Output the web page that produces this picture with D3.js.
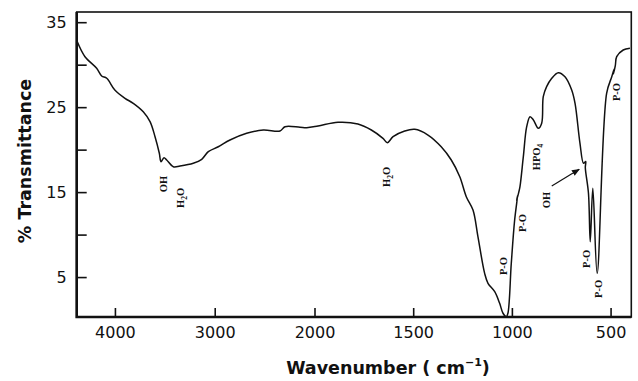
<!DOCTYPE html>
<html>
<head>
<meta charset="utf-8">
<script src="https://cdn.jsdelivr.net/npm/d3@7"></script>
<style>
  body { margin: 0; background: #fff; }
  svg { display: block; }
</style>
</head>
<body>
<div id="chart"></div>
<script>
// spectrum (wavenumber in cm-1, % transmittance)
const wavenumber = [
  4377, 4300, 4183, 4133, 4082, 4001, 3899, 3816, 3716, 3648, 3598, 3555, 3538, 3508, 3481,
  3415, 3348, 3215, 3130, 3064, 2964, 2847, 2680, 2513, 2346, 2296, 2145, 2078, 1982, 1881,
  1780, 1712, 1653, 1631, 1602, 1543, 1492, 1425, 1358, 1307, 1264, 1231, 1197, 1172, 1138,
  1121, 1087, 1062, 1045, 1028, 1020, 1003, 986, 971, 976, 965, 959, 942, 925, 908,
  891, 866, 849, 841, 824, 798, 765, 731, 697, 680, 655, 637, 626, 628, 612,
  603, 590, 568, 520, 494, 482, 486, 476, 469, 436, 402
];
const transmittance = [
  32.7, 30.94, 29.57, 28.67, 28.40, 27.02, 26.04, 25.45, 24.46, 23.29, 21.52, 19.57, 18.58, 19.05, 18.78,
  17.99, 18.07, 18.39, 18.86, 19.76, 20.34, 21.13, 21.92, 22.31, 22.19, 22.70, 22.63, 22.58, 22.78, 23.22,
  23.02, 22.31, 21.33, 20.82, 21.52, 22.19, 22.39, 21.72, 20.34, 18.78, 16.81, 14.46, 12.89, 9.75, 5.44,
  4.27, 3.28, 1.91, 0.74, 0.34, 0.74, 6.62, 11.72, 14.6, 14.0, 15.0, 15.64, 19.17, 22.70, 23.88,
  23.49, 22.51, 23.10, 26.23, 27.41, 28.40, 29.06, 28.58, 27.02, 25.45, 20.74, 18.39, 18.6, 17.9, 14.86,
  9.16, 15.45, 5.44, 26.63, 28.58, 29.5, 28.9, 29.9, 30.94, 31.73, 31.93
];

const xTicks = [4000, 3000, 2000, 1500, 1000, 500];
const yTicks = [5, 10, 15, 20, 25, 30, 35];
const yLabelled = [5, 15, 25, 35];

// band assignments: text ("_" marks a subscript digit), wavenumber, % T of label centre
const bands = [
  ["OH", 3513, 15.95],
  ["H_2O", 3348, 14.31],
  ["H_2O", 1634, 16.78],
  ["P-O", 1045, 6.30],
  ["P-O", 949, 11.36],
  ["HPO_4", 874, 19.13],
  ["OH", 824, 14.07],
  ["P-O", 621, 7.13],
  ["P-O", 562, 3.60],
  ["P-O", 469, 26.78]
];
const arrowFrom = [798, 15.72];
const arrowTo = [659, 17.68];

const width = 638, height = 381;
const plotLeft = 76.7, plotRight = 631.3, plotTop = 12, plotBottom = 317;

// the scale changes at 2000 cm-1, as on the instrument chart
const x = d3.scaleLinear().domain([4383, 2000, 395]).range([plotLeft, 314.5, plotRight]);
const y = d3.scaleLinear().domain([0.3, 36.2]).range([plotBottom, plotTop]);

const svg = d3.select("#chart")
  .append("svg")
  .attr("width", width)
  .attr("height", height);

svg.append("defs").append("marker")
  .attr("id", "head")
  .attr("viewBox", "0 0 10 10")
  .attr("refX", 9)
  .attr("refY", 5)
  .attr("markerWidth", 8)
  .attr("markerHeight", 8)
  .attr("markerUnits", "userSpaceOnUse")
  .attr("orient", "auto")
  .append("path")
  .attr("d", "M0,1L10,5L0,9Z")
  .attr("fill", "#111");

// axes, ticks pointing inward
const xAxis = svg.append("g")
  .attr("transform", `translate(0,${plotBottom})`)
  .call(d3.axisBottom(x).tickValues(xTicks).tickSize(-9).tickPadding(10).tickFormat(d3.format("d")));

const yAxis = svg.append("g")
  .attr("transform", `translate(${plotLeft},0)`)
  .call(d3.axisLeft(y).tickValues(yTicks).tickSize(-10).tickPadding(10)
    .tickFormat(d => yLabelled.includes(d) ? d : ""));

[xAxis, yAxis].forEach(g => {
  g.select(".domain").remove();
  g.attr("font-family", "DejaVu Sans, sans-serif").attr("font-size", 16);
  g.selectAll("line").attr("stroke", "#111").attr("stroke-width", 1.6);
  g.selectAll("text").attr("fill", "#111");
});

// frame
svg.append("rect")
  .attr("x", plotLeft)
  .attr("y", plotTop)
  .attr("width", plotRight - plotLeft)
  .attr("height", plotBottom - plotTop)
  .attr("fill", "none")
  .attr("stroke", "#111")
  .attr("stroke-width", 1.6);
svg.append("path")
  .attr("d", `M${plotLeft},${plotTop}V${plotBottom}H${plotRight}`)
  .attr("fill", "none")
  .attr("stroke", "#111")
  .attr("stroke-width", 2.6);

// spectrum
const points = wavenumber.map((w, i) => [w, transmittance[i]]);
const line = d3.line()
  .x(d => x(d[0]))
  .y(d => y(d[1]))
  .curve(d3.curveCatmullRom.alpha(0.5));

svg.append("path")
  .datum(points)
  .attr("d", line)
  .attr("fill", "none")
  .attr("stroke", "#111")
  .attr("stroke-width", 1.5)
  .attr("stroke-linejoin", "round");

// band labels, rotated
const labels = svg.append("g")
  .attr("font-family", "Liberation Serif, DejaVu Serif, serif")
  .attr("font-weight", "bold")
  .attr("font-size", 10.5)
  .attr("fill", "#111");

bands.forEach(([txt, w, t]) => {
  const el = labels.append("text")
    .attr("transform", `translate(${x(w)},${y(t)}) rotate(-90)`)
    .attr("text-anchor", "middle")
    .attr("dy", "0.35em");
  const parts = txt.split("_");
  el.append("tspan").text(parts[0]);
  parts.slice(1).forEach(p => {
    el.append("tspan").attr("font-size", 7.5).attr("dy", 3).text(p[0]);
    el.append("tspan").attr("dy", -3).text(p.slice(1));
  });
});

svg.append("line")
  .attr("x1", x(arrowFrom[0]))
  .attr("y1", y(arrowFrom[1]))
  .attr("x2", x(arrowTo[0]))
  .attr("y2", y(arrowTo[1]))
  .attr("stroke", "#111")
  .attr("stroke-width", 1.2)
  .attr("marker-end", "url(#head)");

// axis titles
svg.append("text")
  .attr("x", 388)
  .attr("y", 374)
  .attr("text-anchor", "middle")
  .attr("font-family", "DejaVu Sans, sans-serif")
  .attr("font-weight", "bold")
  .attr("font-size", 17.5)
  .attr("fill", "#111")
  .call(t => {
    t.append("tspan").text("Wavenumber ( cm");
    t.append("tspan").attr("font-size", 11).attr("dy", -8).text("\u22121");
    t.append("tspan").attr("dy", 8).text(")");
  });

svg.append("text")
  .attr("transform", "translate(31,161) rotate(-90)")
  .attr("text-anchor", "middle")
  .attr("font-family", "DejaVu Sans, sans-serif")
  .attr("font-weight", "bold")
  .attr("font-size", 17.5)
  .attr("fill", "#111")
  .text("% Transmittance");
</script>
</body>
</html>
